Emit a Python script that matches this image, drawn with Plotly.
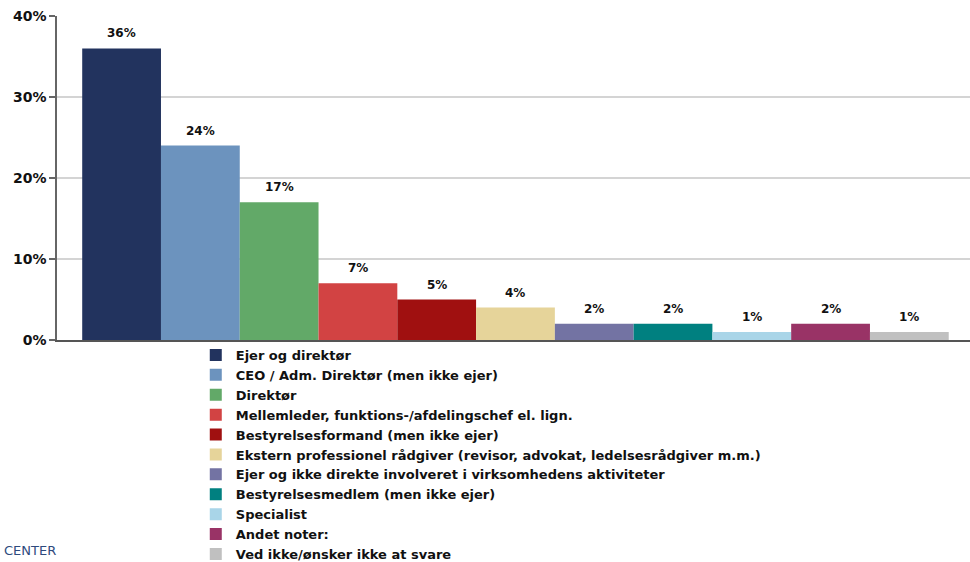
import plotly.graph_objects as go

categories = [
    "Ejer og direktør",
    "CEO / Adm. Direktør (men ikke ejer)",
    "Direktør",
    "Mellemleder, funktions-/afdelingschef el. lign.",
    "Bestyrelsesformand (men ikke ejer)",
    "Ekstern professionel rådgiver (revisor, advokat, ledelsesrådgiver m.m.)",
    "Ejer og ikke direkte involveret i virksomhedens aktiviteter",
    "Bestyrelsesmedlem (men ikke ejer)",
    "Specialist",
    "Andet noter:",
    "Ved ikke/ønsker ikke at svare",
]
values_pct = [36, 24, 17, 7, 5, 4, 2, 2, 1, 2, 1]
colors = ["#22335E", "#6C93BE", "#62A968", "#D24343", "#A01010", "#E6D49A",
          "#7373A3", "#008080", "#A9D5E8", "#993366", "#C0C0C0"]
tick_vals = [0, 0.1, 0.2, 0.3, 0.4]
tick_text = ["0%", "10%", "20%", "30%", "40%"]

FONT = "DejaVu Sans"

fig = go.Figure()
for i, (name, v, c) in enumerate(zip(categories, values_pct, colors)):
    fig.add_trace(go.Bar(
        x=[i], y=[v / 100], width=1, name=f"<b>{name}</b>",
        marker=dict(color=c, line=dict(width=0)),
        hoverinfo="skip",
    ))
    fig.add_annotation(
        x=i, y=v / 100, xref="x", yref="y", text=f"<b>{v}%</b>",
        showarrow=False, yanchor="bottom", yshift=6,
        font=dict(family=FONT, size=12, color="#111111"),
    )

fig.add_annotation(
    x=-0.060, y=-0.679, xref="paper", yref="paper", text="CENTER",
    showarrow=False, xanchor="left", yanchor="bottom",
    font=dict(family=FONT, size=13, color="#2E4A7D"),
)

fig.update_layout(
    width=970, height=562,
    margin=dict(l=57, r=0, t=16, b=222, autoexpand=False),
    paper_bgcolor="white", plot_bgcolor="white",
    barmode="overlay",
    showlegend=True,
    legend=dict(
        x=0.152, y=0.0, xanchor="left", yanchor="top",
        font=dict(family=FONT, size=13, color="#111111"),
        bgcolor="rgba(0,0,0,0)", traceorder="normal",
        itemclick=False, itemdoubleclick=False,
    ),
    xaxis=dict(
        range=[-0.82, 10.77], showticklabels=False, ticks="",
        showgrid=False, zeroline=False, automargin=False,
        showline=True, linecolor="#555555", linewidth=2,
    ),
    yaxis=dict(
        range=[0, 0.4], tickvals=tick_vals, ticktext=[f"<b>{t}</b>" for t in tick_text],
        tickfont=dict(family=FONT, size=14, color="#111111"),
        ticks="outside", ticklen=6, tickcolor="#666666", tickwidth=1.5,
        showgrid=True, gridcolor="#D4D4D4", gridwidth=1.5, automargin=False,
        zeroline=False, showline=True, linecolor="#666666", linewidth=1.5,
    ),
)

fig.write_html("out.html", config={"displayModeBar": False},
               post_script="document.body.style.margin='0';")
